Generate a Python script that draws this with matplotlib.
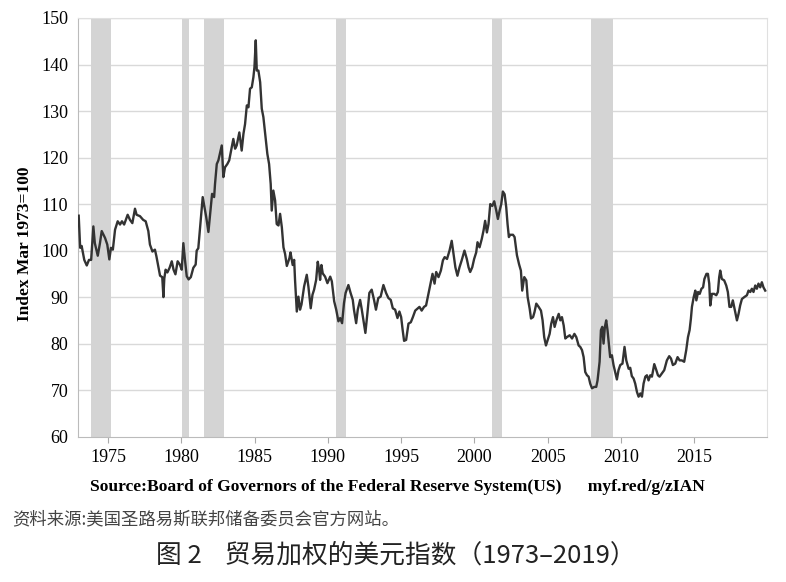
import matplotlib
matplotlib.use("Agg")
import matplotlib.pyplot as plt

# trade weighted dollar index (decimal year, index)
years = [1973.00, 1973.10, 1973.20, 1973.38, 1973.55, 1973.70, 1973.85, 1974.00, 1974.10, 1974.30,
         1974.45, 1974.57, 1974.80, 1974.95, 1975.09, 1975.20, 1975.33, 1975.48, 1975.66, 1975.82,
         1975.95, 1976.10, 1976.34, 1976.50, 1976.66, 1976.84, 1976.95, 1977.18, 1977.40, 1977.57,
         1977.75, 1977.86, 1978.03, 1978.20, 1978.30, 1978.43, 1978.55, 1978.70, 1978.78, 1978.84,
         1978.93, 1979.05, 1979.20, 1979.35, 1979.47, 1979.60, 1979.75, 1979.90, 1980.03, 1980.14,
         1980.25, 1980.37, 1980.50, 1980.65, 1980.82, 1980.98, 1981.05, 1981.16, 1981.28, 1981.46,
         1981.62, 1981.70, 1981.85, 1981.97, 1982.10, 1982.24, 1982.30, 1982.42, 1982.53, 1982.76,
         1982.87, 1982.98, 1983.14, 1983.27, 1983.44, 1983.55, 1983.67, 1983.78, 1983.96, 1984.12,
         1984.24, 1984.35, 1984.47, 1984.58, 1984.69, 1984.81, 1984.92, 1984.99, 1985.08, 1985.15,
         1985.26, 1985.38, 1985.49, 1985.60, 1985.72, 1985.87, 1985.99, 1986.10, 1986.17, 1986.28,
         1986.40, 1986.51, 1986.63, 1986.74, 1986.86, 1986.97, 1987.08, 1987.20, 1987.38, 1987.45,
         1987.60, 1987.70, 1987.76, 1987.88, 1987.99, 1988.10, 1988.20, 1988.38, 1988.56, 1988.67,
         1988.83, 1988.95, 1989.06, 1989.20, 1989.31, 1989.40, 1989.47, 1989.56, 1989.65, 1989.81,
         1989.97, 1990.16, 1990.27, 1990.43, 1990.57, 1990.72, 1990.84, 1990.97, 1991.10, 1991.21,
         1991.40, 1991.55, 1991.70, 1991.78, 1991.93, 1992.04, 1992.20, 1992.30, 1992.46, 1992.56,
         1992.70, 1992.83, 1992.99, 1993.15, 1993.28, 1993.44, 1993.60, 1993.79, 1993.97, 1994.13,
         1994.29, 1994.43, 1994.59, 1994.75, 1994.88, 1995.00, 1995.10, 1995.20, 1995.34, 1995.50,
         1995.66, 1995.80, 1995.96, 1996.10, 1996.25, 1996.40, 1996.56, 1996.70, 1996.86, 1996.98,
         1997.14, 1997.28, 1997.39, 1997.55, 1997.71, 1997.85, 1997.97, 1998.13, 1998.30, 1998.45,
         1998.57, 1998.70, 1998.84, 1998.98, 1999.13, 1999.32, 1999.48, 1999.60, 1999.71, 1999.85,
         1999.98, 2000.12, 2000.21, 2000.35, 2000.50, 2000.62, 2000.73, 2000.85, 2000.96, 2001.08,
         2001.22, 2001.35, 2001.49, 2001.60, 2001.72, 2001.83, 2001.94, 2002.06, 2002.17, 2002.26,
         2002.35, 2002.44, 2002.63, 2002.74, 2002.90, 2003.05, 2003.17, 2003.26, 2003.40, 2003.54,
         2003.63, 2003.77, 2003.86, 2004.00, 2004.10, 2004.22, 2004.38, 2004.54, 2004.65, 2004.76,
         2004.88, 2004.99, 2005.13, 2005.24, 2005.36, 2005.47, 2005.59, 2005.75, 2005.86, 2005.97,
         2006.09, 2006.20, 2006.31, 2006.50, 2006.66, 2006.82, 2006.95, 2007.11, 2007.22, 2007.34,
         2007.45, 2007.56, 2007.68, 2007.79, 2007.90, 2008.02, 2008.18, 2008.31, 2008.40, 2008.54,
         2008.63, 2008.72, 2008.81, 2008.90, 2008.99, 2009.08, 2009.17, 2009.26, 2009.38, 2009.49,
         2009.60, 2009.72, 2009.83, 2009.95, 2010.10, 2010.24, 2010.36, 2010.52, 2010.63, 2010.74,
         2010.86, 2010.97, 2011.09, 2011.20, 2011.32, 2011.43, 2011.54, 2011.66, 2011.77, 2011.88,
         2012.00, 2012.11, 2012.27, 2012.41, 2012.52, 2012.63, 2012.79, 2012.95, 2013.13, 2013.29,
         2013.41, 2013.54, 2013.70, 2013.86, 2014.00, 2014.15, 2014.31, 2014.45, 2014.57, 2014.68,
         2014.77, 2014.84, 2014.96, 2015.07, 2015.14, 2015.26, 2015.37, 2015.49, 2015.60, 2015.69,
         2015.83, 2015.93, 2016.02, 2016.09, 2016.20, 2016.36, 2016.50, 2016.61, 2016.70, 2016.77,
         2016.88, 2017.04, 2017.18, 2017.29, 2017.40, 2017.52, 2017.63, 2017.75, 2017.91, 2018.02,
         2018.13, 2018.25, 2018.41, 2018.59, 2018.70, 2018.82, 2018.93, 2019.04, 2019.16, 2019.27,
         2019.38, 2019.50, 2019.61, 2019.72, 2019.84]
index = [107.5, 100.6, 101.0, 98.0, 96.8, 98.0, 98.0, 105.2, 101.6, 98.9,
         101.6, 104.2, 102.7, 101.3, 98.1, 100.6, 100.2, 104.5, 106.3, 105.6,
         106.3, 105.6, 107.7, 106.6, 105.9, 109.0, 107.7, 107.4, 106.6, 106.3,
         104.2, 101.3, 99.8, 100.2, 98.8, 96.6, 94.6, 94.3, 90.0, 94.0,
         95.9, 95.3, 96.3, 97.7, 95.9, 94.9, 97.7, 97.0, 95.9, 101.6,
         98.0, 94.5, 93.8, 94.3, 96.3, 97.0, 100.0, 100.5, 105.0, 111.5,
         108.6, 107.2, 104.0, 107.9, 112.2, 111.5, 114.3, 118.6, 119.4, 122.6,
         115.8, 117.9, 118.6, 119.4, 122.2, 124.0, 121.9, 122.6, 125.4, 121.5,
         125.1, 127.2, 131.2, 130.8, 134.8, 135.1, 137.3, 139.4, 145.2, 138.7,
         138.7, 136.2, 130.5, 128.7, 125.1, 120.8, 118.6, 114.3, 108.6, 112.9,
         110.8, 105.7, 105.4, 107.9, 105.0, 100.7, 99.3, 96.7, 98.4, 99.6,
         96.9, 98.0, 93.7, 86.9, 90.1, 87.3, 88.4, 92.3, 94.8, 92.3,
         87.6, 90.5, 91.6, 93.7, 97.6, 95.9, 93.7, 96.9, 95.1, 94.4,
         93.0, 94.4, 93.4, 89.1, 87.3, 84.8, 85.5, 84.4, 88.7, 90.9,
         92.6, 90.9, 89.4, 87.3, 84.4, 87.3, 89.4, 87.6, 84.4, 82.3,
         86.6, 90.9, 91.6, 89.4, 87.3, 89.8, 90.1, 92.6, 90.9, 89.8,
         89.4, 87.6, 87.3, 85.5, 86.9, 85.7, 83.0, 80.6, 80.8, 84.3,
         84.6, 85.7, 87.1, 87.5, 87.9, 87.1, 87.9, 88.2, 90.7, 92.5,
         95.0, 92.9, 95.4, 94.3, 95.7, 97.9, 98.6, 98.2, 100.0, 102.1,
         99.3, 96.4, 94.6, 96.4, 97.9, 100.0, 98.2, 96.4, 95.4, 96.4,
         98.2, 99.6, 101.8, 100.7, 102.5, 104.3, 106.4, 103.9, 105.7, 110.0,
         109.6, 110.6, 108.6, 106.8, 108.6, 110.0, 112.7, 112.1, 109.3, 105.7,
         102.9, 103.4, 103.4, 102.9, 99.0, 97.0, 95.7, 91.4, 94.3, 93.6,
         90.0, 87.5, 85.4, 85.7, 86.8, 88.6, 87.9, 87.1, 85.0, 81.4,
         79.6, 80.7, 82.1, 84.3, 85.7, 83.6, 85.0, 86.4, 85.0, 85.7,
         83.9, 81.1, 81.4, 81.8, 81.1, 82.1, 81.4, 79.6, 79.3, 78.6,
         77.1, 73.9, 73.2, 72.9, 71.4, 70.4, 70.7, 70.7, 72.1, 76.1,
         82.9, 83.6, 80.0, 83.6, 85.0, 82.9, 80.0, 77.1, 77.5, 75.4,
         73.9, 72.3, 74.3, 75.4, 75.7, 79.3, 76.4, 74.6, 74.8, 73.0,
         72.5, 71.4, 69.6, 68.6, 69.3, 68.6, 71.4, 72.9, 73.2, 72.1,
         73.2, 72.9, 75.6, 74.3, 73.2, 72.9, 73.6, 74.3, 76.4, 77.3,
         76.8, 75.4, 75.7, 77.1, 76.4, 76.4, 76.1, 78.6, 81.4, 82.9,
         85.4, 87.9, 90.0, 91.4, 89.3, 91.1, 90.7, 91.8, 92.1, 93.9,
         95.0, 95.0, 92.9, 88.2, 90.7, 90.7, 90.4, 91.1, 94.3, 95.7,
         93.9, 93.6, 92.5, 91.1, 87.9, 87.9, 89.3, 87.5, 85.0, 86.4,
         88.2, 89.6, 90.0, 90.4, 91.4, 91.1, 91.8, 91.1, 92.5, 91.8,
         92.9, 92.1, 93.2, 92.1, 91.4]

# NBER recessions (start, end)
rec_start = [1973.87, 1980.04, 1981.54, 1990.58, 2001.21, 2007.94]
rec_end = [1975.17, 1980.55, 1982.88, 1991.22, 2001.87, 2009.44]

xticks = [1975, 1980, 1985, 1990, 1995, 2000, 2005, 2010, 2015]
yticks = [60, 70, 80, 90, 100, 110, 120, 130, 140, 150]

serif = "Liberation Serif"
cjk = ["Noto Sans CJK SC", "DejaVu Sans"]

fig = plt.figure(figsize=(7.86, 5.82), dpi=100)
ax = fig.add_axes([0.0992, 0.2497, 0.8766, 0.7194])

for s, e in zip(rec_start, rec_end):
    ax.axvspan(s, e, color="#d4d4d4", lw=0, zorder=1)

for y in yticks[1:]:
    ax.axhline(y, color="#d9d9d9", lw=1.0, zorder=0)

ax.plot(years, index, color="#333333", lw=1.7, zorder=3)

ax.set_xlim(1972.95, 2019.96)
ax.set_ylim(60, 150)
ax.set_xticks(xticks)
ax.set_yticks(yticks)
ax.tick_params(axis="y", length=0, pad=7, labelsize=13)
ax.tick_params(axis="x", length=4, width=0.8, color="#aaaaaa", pad=5, labelsize=13)
for lab in ax.get_xticklabels() + ax.get_yticklabels():
    lab.set_fontfamily(serif)

for side in ["top", "right"]:
    ax.spines[side].set_color("#e0e0e0")
for side in ["left", "bottom"]:
    ax.spines[side].set_color("#bbbbbb")

ax.set_ylabel("Index Mar 1973=100", fontfamily=serif, fontweight="bold", fontsize=12.5)
ax.yaxis.set_label_coords(-0.065, 0.46)

fig.text(397 / 786, 1 - 487 / 582, "Source:Board of Governors of the Federal Reserve System(US)      myf.red/g/zIAN",
         ha="center", va="center", fontfamily=serif, fontweight="bold", fontsize=12.6)
fig.text(12 / 786, 1 - 519 / 582, "资料来源:美国圣路易斯联邦储备委员会官方网站。",
         ha="left", va="center", family=cjk, fontsize=12.5, color="#444444")
fig.text(396 / 786, 1 - 556 / 582, "图 2    贸易加权的美元指数（1973–2019）",
         ha="center", va="center", family=cjk, fontsize=18.5, color="#222222")

fig.savefig("out.png", dpi=100)
